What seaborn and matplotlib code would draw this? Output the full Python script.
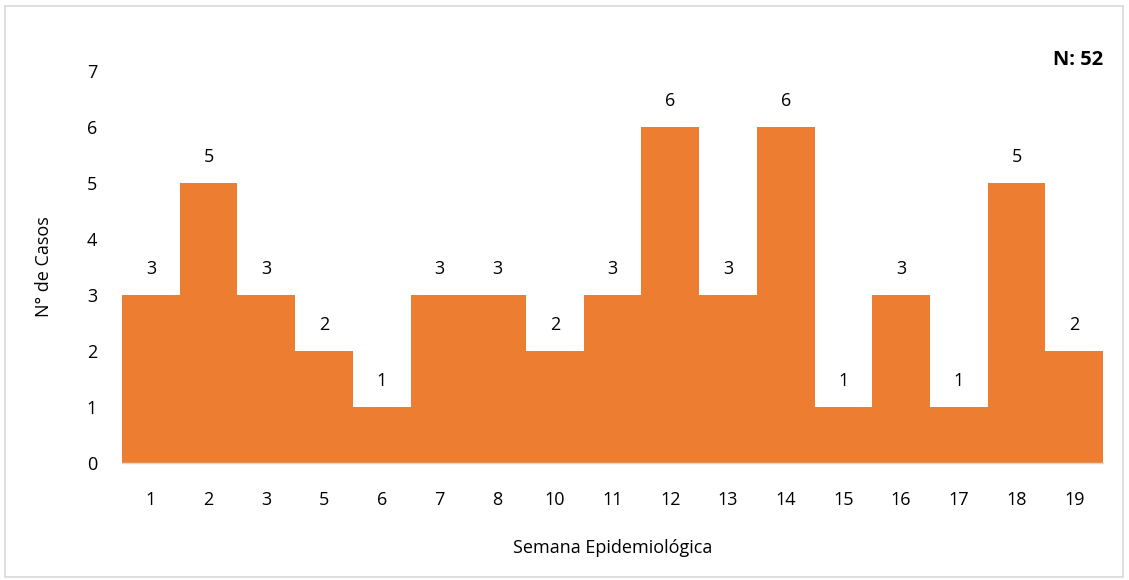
import matplotlib
matplotlib.use("Agg")
import matplotlib.pyplot as plt
import seaborn as sns
import pandas as pd
from matplotlib.patches import Rectangle

# data
semanas = ["1", "2", "3", "5", "6", "7", "8", "10", "11", "12",
           "13", "14", "15", "16", "17", "18", "19"]
casos = [3, 5, 3, 2, 1, 3, 3, 2, 3, 6, 3, 6, 1, 3, 1, 5, 2]

df = pd.DataFrame({"semana": semanas, "casos": casos})

sns.set_theme(style="white")
plt.rcParams["font.family"] = ["Open Sans", "DejaVu Sans"]

fig = plt.figure(figsize=(11.29, 5.8), dpi=100)
ax = fig.add_axes([0.1081, 0.2017, 0.8689, 0.6759])

sns.barplot(data=df, x="semana", y="casos", color="#ED7D31",
            saturation=1, width=1.0, linewidth=0, ax=ax, order=semanas)

for c in ax.containers:
    ax.bar_label(c, padding=12, fontsize=13, color="#000000")

ax.set_xlim(-0.5, len(semanas) - 0.5)
ax.set_ylim(0, 7)
ax.set_yticks(range(0, 8))

for s in ["top", "right", "left"]:
    ax.spines[s].set_visible(False)
ax.spines["bottom"].set_color("#D9D9D9")
ax.spines["bottom"].set_linewidth(1)

ax.tick_params(axis="x", length=0, pad=20, labelsize=13, colors="#000000")
ax.tick_params(axis="y", length=0, pad=18, labelsize=13, colors="#000000")

ax.set_xlabel("Semana Epidemiológica", fontsize=13, color="#000000", labelpad=22)
ax.set_ylabel("N° de Casos", fontsize=13, color="#000000", labelpad=24)

fig.text(1103 / 1129, 1 - 60 / 580, "N: 52", ha="right", va="center",
         fontsize=14.5, fontweight="bold", color="#000000")

# chart border like the original
fig.patches.append(Rectangle((5 / 1129, 3 / 580), 1118 / 1129, 571 / 580,
                             transform=fig.transFigure, fill=False,
                             edgecolor="#D9D9D9", linewidth=1.2))

fig.savefig("out.png", dpi=100)
